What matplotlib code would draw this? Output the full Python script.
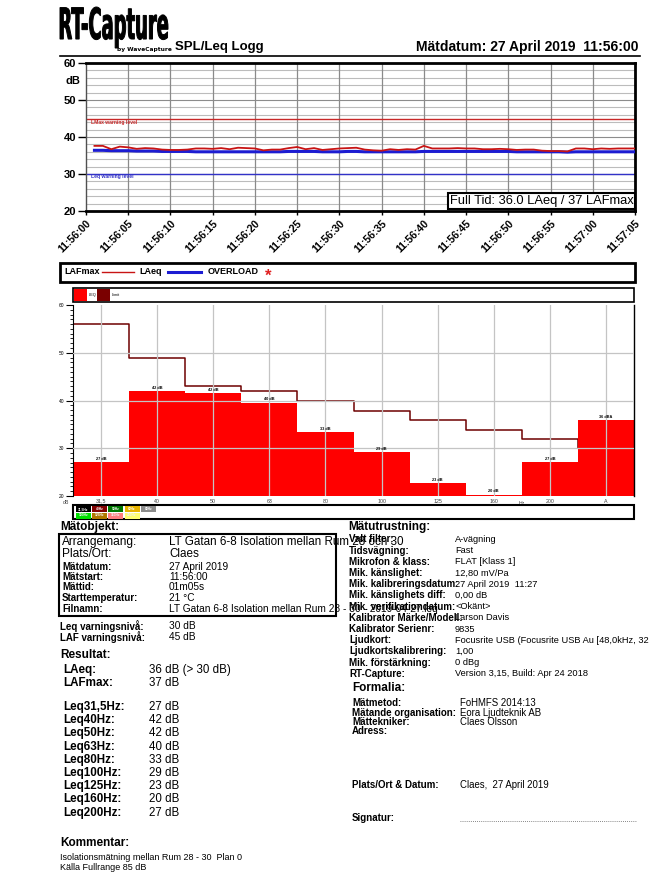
import numpy as np
import matplotlib
matplotlib.use('Agg')
import matplotlib.pyplot as plt
from matplotlib import font_manager as fm
from matplotlib.patches import Rectangle, PathPatch
from matplotlib.textpath import TextPath
from matplotlib.font_manager import FontProperties
from matplotlib.transforms import Affine2D
from matplotlib.lines import Line2D

# --- Daten ---
seconds = np.arange(1, 66)
time_labels = ['11:56:00', '11:56:05', '11:56:10', '11:56:15', '11:56:20', '11:56:25', '11:56:30',
               '11:56:35', '11:56:40', '11:56:45', '11:56:50', '11:56:55', '11:57:00', '11:57:05']
lafmax = [37.6, 37.6, 36.7, 37.4, 37.2, 36.8, 37.0, 36.9, 36.6, 36.5,
          36.5, 36.6, 36.9, 36.9, 36.8, 37.0, 36.7, 37.1, 37.0, 36.9,
          36.4, 36.6, 36.6, 37.0, 37.3, 36.7, 37.0, 36.5, 36.7, 36.9,
          37.0, 37.1, 36.6, 36.4, 36.3, 36.7, 36.5, 36.7, 36.6, 37.6,
          36.9, 36.9, 36.9, 37.0, 36.9, 36.9, 36.7, 36.7, 36.8, 36.7,
          36.5, 36.6, 36.6, 36.3, 36.2, 36.2, 36.1, 36.9, 36.9, 36.7,
          36.9, 36.8, 36.9, 36.9, 36.9]
laeq = [36.4, 36.4, 36.3, 36.3, 36.3, 36.2, 36.2, 36.2, 36.1, 36.1,
        36.1, 36.1, 36.0, 36.0, 36.0, 36.0, 36.0, 36.0, 36.0, 36.0,
        36.0, 36.0, 36.0, 36.1, 36.1, 36.1, 36.1, 36.0, 36.0, 36.0,
        36.1, 36.1, 36.0, 36.0, 36.0, 36.0, 36.0, 36.0, 36.0, 36.1,
        36.1, 36.1, 36.1, 36.1, 36.1, 36.1, 36.1, 36.1, 36.1, 36.1,
        36.0, 36.0, 36.0, 36.0, 36.0, 36.0, 35.9, 36.0, 36.0, 36.0,
        36.0, 36.0, 36.0, 36.0, 36.0]
lmax_warning = 45
leq_warning = 30

bands = ['31,5', '40', '50', '63', '80', '100', '125', '160', '200', 'A']
band_leq = [27.1, 42.0, 41.5, 39.5, 33.4, 29.2, 22.7, 20.3, 27.1, 35.9]
band_limit = [56.0, 48.8, 43.0, 41.9, 40.0, 37.9, 36.0, 33.9, 32.0, 30.0]

key_row1 = ['31,5Hz', '40Hz', '50Hz', '63Hz', '80Hz']
key_row2 = ['100Hz', '125Hz', '160Hz', '200Hz']

matobjekt_big = [('Arrangemang:', 'LT Gatan 6-8 Isolation mellan Rum 28 och 30'),
                 ('Plats/Ort:', 'Claes')]
matobjekt_small = [('Mätdatum:', '27 April 2019'),
                   ('Mätstart:', '11:56:00'),
                   ('Mättid:', '01m05s'),
                   ('Starttemperatur:', '21 °C'),
                   ('Filnamn:', 'LT Gatan 6-8 Isolation mellan Rum 28 - 30 - 2019-04-27.leq')]
varning = [('Leq varningsnivå:', '30 dB'), ('LAF varningsnivå:', '45 dB')]
resultat = [('LAeq:', '36 dB (> 30 dB)'), ('LAFmax:', '37 dB')]
leq_hz = [('Leq31,5Hz:', '27 dB'), ('Leq40Hz:', '42 dB'), ('Leq50Hz:', '42 dB'),
          ('Leq63Hz:', '40 dB'), ('Leq80Hz:', '33 dB'), ('Leq100Hz:', '29 dB'),
          ('Leq125Hz:', '23 dB'), ('Leq160Hz:', '20 dB'), ('Leq200Hz:', '27 dB')]
kommentar = ['Isolationsmätning mellan Rum 28 - 30  Plan 0', 'Källa Fullrange 85 dB']
utrustning = [('Valt filter:', 'A-vägning'), ('Tidsvägning:', 'Fast'),
              ('Mikrofon & klass:', 'FLAT [Klass 1]'), ('Mik. känslighet:', '12,80 mV/Pa'),
              ('Mik. kalibreringsdatum:', '27 April 2019  11:27'), ('Mik. känslighets diff:', '0,00 dB'),
              ('Mik. verifikationdatum:', '<Okänt>'), ('Kalibrator Märke/Modell:', 'Larson Davis'),
              ('Kalibrator Serienr:', '9835'),
              ('Ljudkort:', 'Focusrite USB (Focusrite USB Au [48,0kHz, 32'),
              ('Ljudkortskalibrering:', '1,00'), ('Mik. förstärkning:', '0 dBg'),
              ('RT-Capture:', 'Version 3,15, Build: Apr 24 2018')]
formalia = [('Mätmetod:', 'FoHMFS 2014:13'), ('Mätande organisation:', 'Eora Ljudteknik AB'),
            ('Mättekniker:', 'Claes Olsson'), ('Adress:', '')]

# --- Schriften ---
names = {f.name for f in fm.fontManager.ttflist}
NARROW = 'Liberation Sans Narrow' if 'Liberation Sans Narrow' in names else 'DejaVu Sans'
plt.rcParams['font.family'] = 'Liberation Sans'

W, H = 651, 883
fig = plt.figure(figsize=(W / 100, H / 100), dpi=100)


def ax_px(x0, y0, x1, y1):
    return fig.add_axes([x0 / W, 1 - y1 / H, (x1 - x0) / W, (y1 - y0) / H])


def txt(x, y, s, size=7, bold=False, **kw):
    kw.setdefault('ha', 'left')
    kw.setdefault('va', 'center')
    fig.text(x / W, 1 - y / H, s, fontsize=size, fontweight='bold' if bold else 'normal', **kw)


def box(x0, y0, x1, y1, lw=1.5, fc='none', ec='black'):
    fig.add_artist(Rectangle((x0 / W, 1 - y1 / H), (x1 - x0) / W, (y1 - y0) / H,
                             transform=fig.transFigure, fc=fc, ec=ec, lw=lw))


def hline(x0, x1, y, **kw):
    fig.add_artist(Line2D([x0 / W, x1 / W], [1 - y / H, 1 - y / H], transform=fig.transFigure, **kw))


# --- Kopfzeile ---
tp = TextPath((0, 0), 'RT-Capture', size=10, prop=FontProperties(family=NARROW, weight='bold'))
bb = tp.get_extents()
lx0, ly0, lx1, ly1 = 60, 7, 168, 48
tr = Affine2D().translate(-bb.x0, -bb.y0).scale((lx1 - lx0) / bb.width / W, (ly1 - ly0) / bb.height / H)
tr = tr.translate(lx0 / W, 1 - ly1 / H)
fig.add_artist(PathPatch(tp, transform=tr + fig.transFigure, fc='black', ec='black', lw=0.7))
txt(117, 50, 'by WaveCapture', size=4.2, bold=True, family=NARROW)
txt(175, 47, 'SPL/Leq Logg', size=9.5, bold=True)
txt(638, 47, 'Mätdatum: 27 April 2019  11:56:00', size=10, bold=True, ha='right')
hline(60, 640, 55.5, color='black', lw=1.2)

# --- Zeitverlauf ---
ax = ax_px(86, 63, 635, 211)
ax.set_xlim(0, 65)
ax.set_ylim(20, 60)
for y in range(22, 60, 2):
    ax.axhline(y, color='#8c8c8c' if y % 10 == 0 else '#bcbcbc', lw=0.8, zorder=0)
for x in range(5, 65, 5):
    ax.axvline(x, color='#8a8a8a', lw=0.9, zorder=0)
ax.axhline(lmax_warning, color='#c82828', lw=1.0, zorder=1)
ax.axhline(leq_warning, color='#3232c8', lw=1.0, zorder=1)
ax.text(0.6, lmax_warning - 0.95, 'LMax warning level', fontsize=3.6, color='#c82828',
        fontweight='bold', va='center')
ax.text(0.6, leq_warning - 0.8, 'Leq warning level', fontsize=3.6, color='#3232c8',
        fontweight='bold', va='center')
ax.plot(seconds, laeq, color='#1c1cd2', lw=2.2, zorder=3)
ax.plot(seconds, lafmax, color='#c81414', lw=1.3, zorder=4)
ax.set_yticks(range(20, 61, 10))
ax.set_yticklabels([str(v) for v in range(20, 61, 10)], fontsize=8, fontweight='bold')
ax.set_xticks(range(0, 66, 5))
ax.set_xticklabels(time_labels, rotation=45, ha='right', va='top', rotation_mode='anchor',
                   fontsize=7.6, fontweight='bold')
ax.tick_params(axis='y', length=6, width=1, pad=1)
ax.tick_params(axis='x', length=3, width=1, pad=2)
for s in ['top', 'bottom', 'right']:
    ax.spines[s].set_linewidth(2)
ax.spines['left'].set_linewidth(1)
ax.spines['left'].set_color('#505050')
ax.text(0.997, 0.025, 'Full Tid: 36.0 LAeq / 37 LAFmax', transform=ax.transAxes, ha='right',
        va='bottom', fontsize=9.3, zorder=6,
        bbox=dict(facecolor='white', edgecolor='black', lw=1.5, pad=1.5))
txt(65, 81, 'dB', size=8, bold=True)

# --- Legende ---
box(60, 263, 635, 282, lw=2)
txt(64, 272, 'LAFmax', size=6.5, bold=True)
hline(102, 134, 272, color='#c81414', lw=1.0)
txt(139, 272, 'LAeq', size=6.5, bold=True)
hline(168, 201, 272, color='#1c1cd2', lw=2.2)
txt(208, 272, 'OVERLOAD', size=6.5, bold=True)
txt(265, 276, '*', size=12, bold=True, color='#e02020')

# --- Terzband-Diagramm ---
box(73, 288, 634, 302, lw=1.2)
box(74, 289, 87, 301, lw=0, fc='#ff0000')
txt(88.5, 295, 'LEQ', size=2.8)
box(97, 289, 110, 301, lw=0, fc='#7a0000')
txt(111.5, 295, 'Limit', size=2.8)

bx = ax_px(73, 305, 634, 496)
pos = np.arange(len(bands)) + 0.5
bx.set_xlim(0, len(bands))
bx.set_ylim(20, 60)
bx.step(np.arange(len(bands) + 1), band_limit + band_limit[-1:], where='post',
        color='#6e0000', lw=1.1, zorder=1)
bx.bar(pos, np.array(band_leq) - 20, bottom=20, width=1.0, color='#ff0000', zorder=2)
for p, v, b in zip(pos, band_leq, bands):
    unit = 'dBA' if b == 'A' else 'dB'
    bx.text(p, v + 0.3, f'{round(v)} {unit}', fontsize=2.8, ha='center', va='bottom',
            fontweight='bold', zorder=4)
for y in (30, 40, 50):
    bx.axhline(y, color='#c4c4c4', lw=0.9, zorder=3)
for p in pos:
    bx.axvline(p, color='#c4c4c4', lw=0.9, zorder=3)
bx.set_yticks(range(20, 61, 10))
bx.set_yticks(range(20, 61, 1), minor=True)
bx.set_yticklabels([str(v) for v in range(20, 61, 10)], fontsize=3.5)
bx.set_xticks(pos)
bx.set_xticklabels(bands, fontsize=3.8, color='#404040')
bx.tick_params(axis='y', which='major', length=5, width=0.8, pad=1)
bx.tick_params(axis='y', which='minor', length=2.5, width=0.6)
bx.tick_params(axis='x', length=0, pad=2)
bx.spines['top'].set_visible(False)
bx.spines['bottom'].set_visible(False)
bx.spines['left'].set_linewidth(0.8)
bx.spines['right'].set_linewidth(1.0)
bx.text(8.0, 18.9, 'Hz', fontsize=3.8, color='#404040', ha='center', va='top')
txt(63, 503, 'dB', size=3.8, color='#404040')

# Farbschlüssel unter dem Diagramm
box(73, 505, 634, 519, lw=1.5)
row1_col = ['#000000', '#800000', '#007800', '#e8b400', '#8c8c8c']
row2_col = ['#00e000', '#b07800', '#ff8080', '#ffff70']
for i, (lab, c) in enumerate(zip(key_row1, row1_col)):
    box(76 + i * 16.2, 506, 91 + i * 16.2, 512, lw=0, fc=c)
    txt(83.5 + i * 16.2, 509, lab, size=2.3, bold=True, ha='center', color='white')
for i, (lab, c) in enumerate(zip(key_row2, row2_col)):
    box(76 + i * 16.2, 512.5, 91 + i * 16.2, 518.5, lw=0, fc=c)
    txt(83.5 + i * 16.2, 515.5, lab, size=2.3, bold=True, ha='center', color='#f0f0f0')

# --- Mätobjekt ---
txt(60, 527, 'Mätobjekt:', size=8.5, bold=True)
box(59, 534, 336, 616, lw=1.5)
for i, (k, v) in enumerate(matobjekt_big):
    y = 542 + i * 12
    txt(62, y, k, size=8.6)
    txt(169, y, v, size=8.4)
for i, (k, v) in enumerate(matobjekt_small):
    y = 566.5 + i * 10.5
    txt(62, y, k, size=7, bold=True)
    txt(169, y, v, size=7.3)
for i, (k, v) in enumerate(varning):
    y = 626 + i * 11
    txt(60, y, k, size=7, bold=True)
    txt(169, y, v, size=7.3)

txt(60, 655, 'Resultat:', size=8.5, bold=True)
for i, (k, v) in enumerate(resultat):
    y = 670 + i * 13
    txt(63, y, k, size=8.4, bold=True)
    txt(149, y, v, size=8.3)
for i, (k, v) in enumerate(leq_hz):
    y = 707 + i * 13.2
    txt(63, y, k, size=8.4, bold=True)
    txt(149, y, v, size=8.3)

txt(60, 843, 'Kommentar:', size=8.5, bold=True)
for i, line in enumerate(kommentar):
    txt(60, 857 + i * 10, line, size=6.5)

# --- Mätutrustning ---
txt(348, 527, 'Mätutrustning:', size=8.5, bold=True)
for i, (k, v) in enumerate(utrustning):
    y = 539.5 + i * 11.2
    txt(349, y, k, size=7, bold=True)
    txt(455, y, v, size=6.7)

txt(352, 688, 'Formalia:', size=8.5, bold=True)
for i, (k, v) in enumerate(formalia):
    y = 703 + i * 9.5
    txt(352, y, k, size=7, bold=True)
    txt(460, y, v, size=6.9)

txt(352, 785, 'Plats/Ort & Datum:', size=7, bold=True)
txt(460, 785, 'Claes,  27 April 2019', size=6.9)
txt(352, 818, 'Signatur:', size=7, bold=True)
hline(460, 637, 821, color='#606060', lw=0.6, linestyle=(0, (1, 1.5)))

fig.savefig('out.png', dpi=100)
